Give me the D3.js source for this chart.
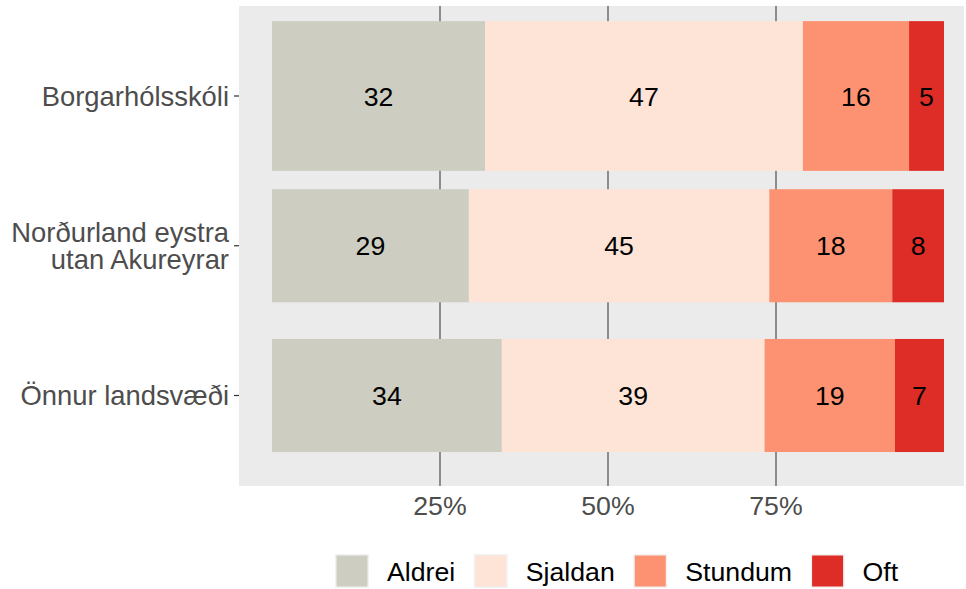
<!DOCTYPE html>
<html>
<head>
<meta charset="utf-8">
<script src="https://cdn.jsdelivr.net/npm/d3@7"></script>
<style>
  html, body { margin: 0; padding: 0; background: #fff; }
  svg { display: block; }
  text { font-family: "Liberation Sans", Arial, sans-serif; }
</style>
</head>
<body>
<svg id="chart" width="966" height="589"></svg>
<script>
// ---- data ----
const categories = ["Borgarhólsskóli", "Norðurland eystra\nutan Akureyrar", "Önnur landsvæði"];
const seriesNames = ["Aldrei", "Sjaldan", "Stundum", "Oft"];
const aldrei  = [31.7, 29.3, 34.2];
const sjaldan = [47.3, 44.7, 39.1];
const stundum = [15.8, 18.3, 19.4];
const oft     = [5.2, 7.7, 7.3];
const xTickValues = [25, 50, 75];
const xTickLabels = ["25%", "50%", "75%"];
const seriesColors = ["#CDCDC1", "#FEE3D7", "#FC9272", "#DE2D26"];

// ---- layout ----
const W = 966, H = 589;
const panel = { left: 239, right: 964, top: 6, bottom: 486 };
const fontSize = 26.7;
const yFontSize = 27.4;
const barThickness = [1.0, 0.755, 0.755]; // fraction of category step

const svg = d3.select("#chart");

const x = d3.scaleLinear().domain([0, 100]).range([272, 944]);
const y = d3.scalePoint().domain(categories).range([96, 395.5]);
const step = y.step();

// panel background
svg.append("rect")
  .attr("x", panel.left).attr("y", panel.top)
  .attr("width", panel.right - panel.left).attr("height", panel.bottom - panel.top)
  .attr("fill", "#EBEBEB");

// gridlines
svg.append("g").selectAll("line").data(xTickValues).join("line")
  .attr("x1", d => x(d)).attr("x2", d => x(d))
  .attr("y1", panel.top).attr("y2", panel.bottom)
  .attr("stroke", "#4D4D4D").attr("stroke-width", 1.2);

// stacked data
const rows = categories.map((c, i) => ({ cat: c, Aldrei: aldrei[i], Sjaldan: sjaldan[i], Stundum: stundum[i], Oft: oft[i], idx: i }));
const stack = d3.stack().keys(seriesNames);
const stacked = stack(rows);
const color = d3.scaleOrdinal().domain(seriesNames).range(seriesColors);

const gBars = svg.append("g");
stacked.forEach(layer => {
  const g = gBars.append("g").attr("fill", color(layer.key));
  g.selectAll("rect").data(layer).join("rect")
    .attr("x", d => x(d[0]))
    .attr("width", d => x(d[1]) - x(d[0]))
    .attr("y", d => y(d.data.cat) - barThickness[d.data.idx] * step / 2)
    .attr("height", d => barThickness[d.data.idx] * step);
});

// bar labels
const gLab = svg.append("g");
stacked.forEach(layer => {
  gLab.selectAll(null).data(layer).join("text")
    .attr("x", d => (x(d[0]) + x(d[1])) / 2)
    .attr("y", d => y(d.data.cat))
    .attr("dy", "0.36em")
    .attr("text-anchor", "middle")
    .attr("font-size", fontSize)
    .attr("fill", "#000")
    .text(d => Math.round(d[1] - d[0]));
});

// y axis ticks & labels
const gy = svg.append("g");
categories.forEach(c => {
  const yc = y(c);
  gy.append("line").attr("x1", panel.left - 5).attr("x2", panel.left)
    .attr("y1", yc).attr("y2", yc).attr("stroke", "#333").attr("stroke-width", 1.2);
  const lines = c.split("\n");
  const lh = 26.5;
  lines.forEach((ln, k) => {
    gy.append("text")
      .attr("text-anchor", "end")
      .attr("font-size", yFontSize)
      .attr("fill", "#4D4D4D")
      .attr("x", panel.left - 10)
      .attr("y", yc + (k - (lines.length - 1) / 2) * lh)
      .attr("dy", "0.36em")
      .text(ln);
  });
});

// x axis labels
svg.append("g").selectAll("text").data(xTickValues).join("text")
  .attr("x", d => x(d))
  .attr("y", 515)
  .attr("text-anchor", "middle")
  .attr("font-size", fontSize)
  .attr("fill", "#4D4D4D")
  .text((d, i) => xTickLabels[i]);

// legend
const gLeg = svg.append("g");
let lx = 335;
const keySize = 34, ly = 554;
seriesNames.forEach(s => {
  gLeg.append("rect").attr("x", lx).attr("y", ly).attr("width", keySize).attr("height", keySize).attr("fill", "#F2F2F2");
  gLeg.append("rect").attr("x", lx + 1.5).attr("y", ly + 1.5).attr("width", keySize - 3).attr("height", keySize - 3).attr("fill", color(s));
  const t = gLeg.append("text")
    .attr("x", lx + 52).attr("y", ly + keySize / 2).attr("dy", "0.36em")
    .attr("font-size", fontSize).attr("fill", "#000").text(s);
  lx = lx + 52 + t.node().getComputedTextLength() + 18.5;
});
</script>
</body>
</html>
